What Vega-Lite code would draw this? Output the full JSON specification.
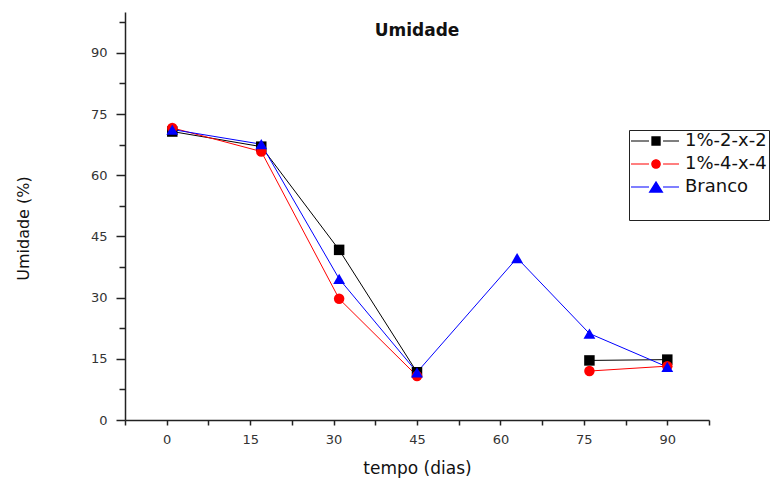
{
  "$schema": "https://vega.github.io/schema/vega-lite/v6.json",
  "width": 584,
  "height": 408,
  "autosize": {"type": "none"},
  "padding": {"left": 125, "top": 12, "right": 62, "bottom": 61},
  "background": "white",
  "title": {"text": "Umidade", "font": "DejaVu Sans", "fontSize": 17, "fontWeight": "bold", "color": "#111", "anchor": "middle", "offset": -28},
  "data": {"values": [
    {"serie": "1%-2-x-2", "dias": 1, "umidade": 70.7},
    {"serie": "1%-2-x-2", "dias": 17, "umidade": 67.0},
    {"serie": "1%-2-x-2", "dias": 31, "umidade": 41.7},
    {"serie": "1%-2-x-2", "dias": 45, "umidade": 11.7},
    {"serie": "1%-2-x-2", "dias": 63, "umidade": null},
    {"serie": "1%-2-x-2", "dias": 76, "umidade": 14.6},
    {"serie": "1%-2-x-2", "dias": 90, "umidade": 14.8},
    {"serie": "1%-4-x-4", "dias": 1, "umidade": 71.6},
    {"serie": "1%-4-x-4", "dias": 17, "umidade": 65.8},
    {"serie": "1%-4-x-4", "dias": 31, "umidade": 29.7},
    {"serie": "1%-4-x-4", "dias": 45, "umidade": 10.8},
    {"serie": "1%-4-x-4", "dias": 63, "umidade": null},
    {"serie": "1%-4-x-4", "dias": 76, "umidade": 12.0},
    {"serie": "1%-4-x-4", "dias": 90, "umidade": 13.2},
    {"serie": "Branco", "dias": 1, "umidade": 71.2},
    {"serie": "Branco", "dias": 17, "umidade": 67.6},
    {"serie": "Branco", "dias": 31, "umidade": 34.6},
    {"serie": "Branco", "dias": 45, "umidade": 11.7},
    {"serie": "Branco", "dias": 63, "umidade": 39.7},
    {"serie": "Branco", "dias": 76, "umidade": 21.2},
    {"serie": "Branco", "dias": 90, "umidade": 13.0}
  ]},
  "encoding": {
    "x": {
      "field": "dias", "type": "quantitative",
      "scale": {"domain": [-7.5, 97.5], "nice": false, "zero": false},
      "axis": {
        "title": "tempo (dias)",
        "titleFontSize": 17,
        "titleY": 48,
        "titleBaseline": "middle",
        "values": [-7.5, 0, 7.5, 15, 22.5, 30, 37.5, 45, 52.5, 60, 67.5, 75, 82.5, 90, 97.5],
        "labelExpr": "datum.value % 15 === 0 ? datum.label : ''",
        "tickSize": 5,
        "labelPadding": 8,
        "labelFlush": false,
        "labelOverlap": false
      }
    }
  },
  "layer": [
    {
      "encoding": {
        "y": {
          "field": "umidade", "type": "quantitative",
          "scale": {"domain": [0, 100], "nice": false},
          "axis": {
            "orient": "left",
            "title": "Umidade (%)",
            "titleFontSize": 16,
            "titleX": -102,
            "titleY": 216,
            "titleAngle": -90,
            "titleAlign": "center",
            "titleBaseline": "middle",
            "values": [0, 15, 30, 45, 60, 75, 90],
            "tickSize": 9,
            "labelPadding": 9,
            "labelFlush": false,
            "labelOverlap": false
          }
        }
      },
      "layer": [
        {
          "transform": [{"filter": "datum.serie === '1%-2-x-2'"}],
          "mark": {"type": "line", "strokeWidth": 1, "color": "#000000"}
        },
        {
          "transform": [{"filter": "datum.serie === '1%-4-x-4'"}],
          "mark": {"type": "line", "strokeWidth": 1, "color": "#ff0000"}
        },
        {
          "transform": [{"filter": "datum.serie === 'Branco'"}],
          "mark": {"type": "line", "strokeWidth": 1, "color": "#0000ff"}
        },
        {
          "transform": [{"filter": "datum.serie === '1%-2-x-2'"}],
          "mark": {"type": "point", "shape": "square", "filled": true, "opacity": 1, "size": 110, "color": "#000000"}
        },
        {
          "transform": [{"filter": "datum.serie === '1%-4-x-4'"}],
          "mark": {"type": "point", "shape": "circle", "filled": true, "opacity": 1, "size": 110, "color": "#ff0000"}
        },
        {
          "transform": [{"filter": "datum.serie === 'Branco'"}],
          "mark": {"type": "point", "shape": "triangle-up", "filled": true, "opacity": 1, "size": 140, "color": "#0000ff"}
        },
        {
          "transform": [{"filter": "false"}],
          "mark": {"type": "point", "filled": true, "opacity": 1},
          "encoding": {
            "fill": {"field": "serie", "type": "nominal", "scale": {"domain": ["1%-2-x-2", "1%-4-x-4", "Branco"], "range": ["#000000", "#ff0000", "#0000ff"]}, "legend": {"title": " ", "titleOrient": "bottom", "orient": "none", "legendX": 504, "legendY": 118}},
            "shape": {"field": "serie", "type": "nominal", "scale": {"domain": ["1%-2-x-2", "1%-4-x-4", "Branco"], "range": [
              "M-1.5,-0.09H1.5V0.09H-1.5ZM3.84,-0.09H6.5V0.09H3.84ZM1.89,-0.78H3.45V0.78H1.89Z",
              "M-1.5,-0.09H1.5V0.09H-1.5ZM3.84,-0.09H6.5V0.09H3.84ZM1.87,0A0.8,0.8,0,1,0,3.47,0A0.8,0.8,0,1,0,1.87,0Z",
              "M-1.5,-0.09H1.5V0.09H-1.5ZM3.84,-0.09H6.5V0.09H3.84ZM2.67,-1.05L3.92,0.95L1.42,0.95Z"
            ]}, "legend": {"title": " ", "titleOrient": "bottom", "orient": "none", "legendX": 504, "legendY": 118}}
          }
        }
      ]
    },
    {
      "transform": [{"filter": "datum.serie === 'Branco'"}],
      "mark": {"type": "point", "opacity": 0},
      "encoding": {
        "y": {
          "field": "umidade", "type": "quantitative",
          "scale": {"domain": [0, 100], "nice": false},
          "axis": {
            "orient": "left",
            "title": null,
            "domain": false,
            "labels": false,
            "values": [7.5, 22.5, 37.5, 52.5, 67.5, 82.5, 97.5],
            "tickSize": 6
          }
        }
      }
    }
  ],
  "resolve": {"axis": {"y": "independent"}},
  "config": {
    "view": {"stroke": null},
    "axis": {
      "grid": false,
      "domainColor": "#222222",
      "domainWidth": 1.5,
      "tickColor": "#222222",
      "tickWidth": 1.5,
      "labelFont": "DejaVu Sans",
      "labelFontSize": 13,
      "labelColor": "#333333",
      "titleFont": "DejaVu Sans",
      "titleFontWeight": "normal",
      "titleColor": "#111111"
    },
    "legend": {
      "padding": 2,
      "rowPadding": 5,
      "labelOffset": 36,
      "symbolSize": 144,
      "symbolStrokeWidth": 0,
      "symbolOpacity": 1,
      "strokeColor": "#222222",
      "labelFont": "DejaVu Sans",
      "labelFontSize": 18,
      "labelColor": "#111111",
      "titleFontSize": 18,
      "titlePadding": 4
    }
  }
}
